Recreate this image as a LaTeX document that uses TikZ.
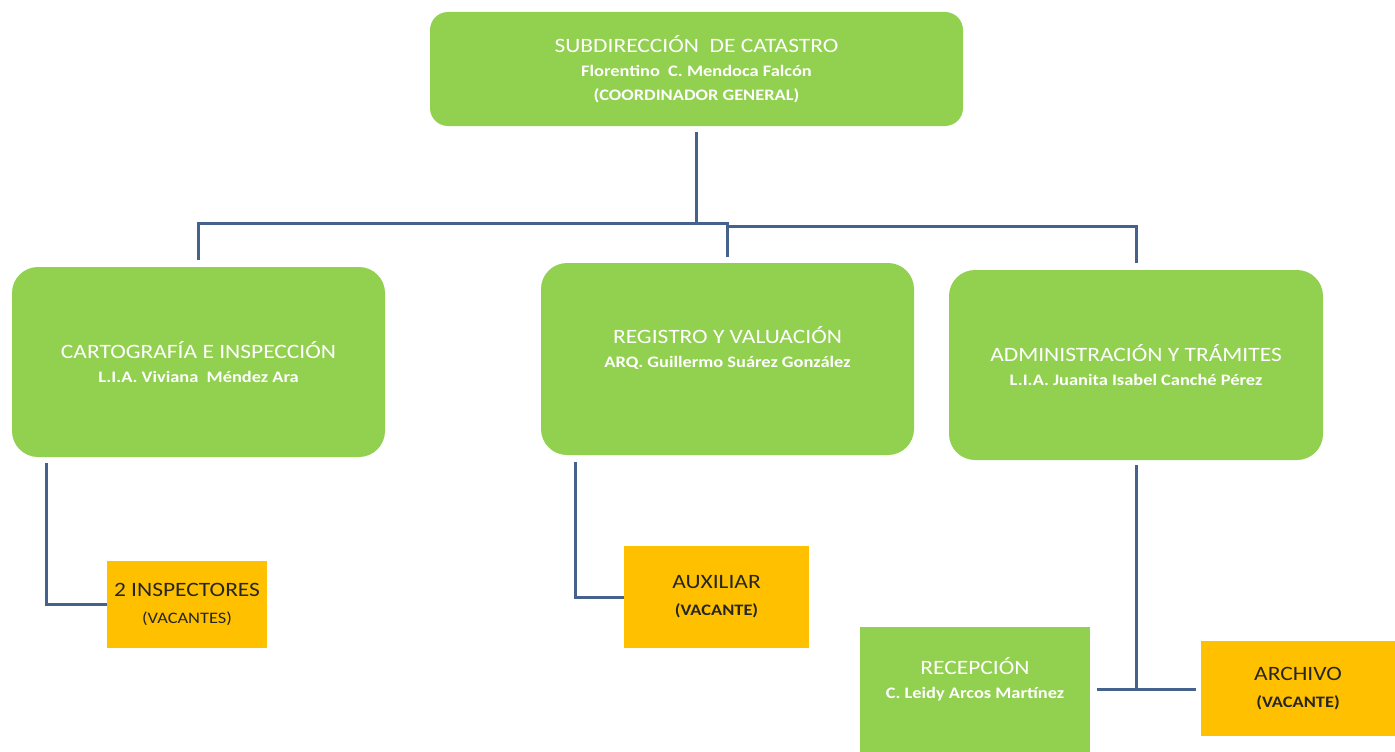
\documentclass[tikz,border=0pt]{standalone}
\usepackage{fontspec}
\setmainfont{Carlito}[FakeStretch=1.15]
\usepackage{tikz}
\definecolor{mygreen}{RGB}{146,208,80}
\definecolor{myorange}{RGB}{255,192,0}
\definecolor{myblue}{RGB}{68,98,140}
\newcommand{\head}[1]{{\mdseries\fontsize{20.4}{24}\selectfont #1}}

\begin{document}
\begin{tikzpicture}[x=1pt, y=-1pt,
    unit/.style={fill=mygreen, rounded corners=26pt, text=white, align=center, inner sep=0pt,
      font=\fontsize{16}{24}\selectfont\bfseries},
    staff/.style={fill=myorange, text=black!85, align=center, inner sep=0pt,
      font=\fontsize{16}{27}\selectfont},
    link/.style={draw=myblue, line width=3pt}]
  \useasboundingbox (0,0) rectangle (1395,752);
  \node[unit, minimum width=533pt, minimum height=114pt, rounded corners=18pt] (sub) at (696.5,69)
    {\head{SUBDIRECCIÓN\ \ DE CATASTRO}\\Florentino\ \ C. Mendoca Falcón\\(COORDINADOR GENERAL)};
  \node[unit, minimum width=373pt, minimum height=190pt] (carto) at (198.5,362)
    {\head{CARTOGRAFÍA E INSPECCIÓN}\\L.I.A. Viviana\ \ Méndez Ara};
  \node[unit, minimum width=373pt, minimum height=192pt] (reg) at (727.5,359)
    {\head{REGISTRO Y VALUACIÓN}\\ARQ. Guillermo Suárez González\\\mbox{}};
  \node[unit, minimum width=374pt, minimum height=190pt] (adm) at (1136,365)
    {\head{ADMINISTRACIÓN Y TRÁMITES}\\L.I.A. Juanita Isabel Canché Pérez};
  \node[staff, minimum width=160pt, minimum height=87pt] (insp) at (187,604.5)
    {\head{2 INSPECTORES}\\(VACANTES)};
  \node[staff, minimum width=185pt, minimum height=102pt] (aux) at (716.5,597)
    {\head{AUXILIAR}\\\textbf{(VACANTE)}};
  \node[unit, sharp corners, minimum width=230pt, minimum height=125pt] (recep) at (975,689.5)
    {\head{RECEPCIÓN}\\C. Leidy Arcos Martínez\\\mbox{}};
  \node[staff, minimum width=194pt, minimum height=95pt] (arch) at (1298,688.5)
    {\head{ARCHIVO}\\\textbf{(VACANTE)}};

  \coordinate (bus) at (696.5,223);
  \coordinate (jog) at (727.5,226);
  \coordinate (tee) at (adm.south |- recep.east);
  \draw[link] ([yshift=-6pt]sub.south) -- (bus) -| ([yshift=7pt]carto.north);
  \draw[link] (bus) -| ([yshift=6pt]reg.north);
  \draw[link] (jog) -| ([yshift=7pt]adm.north);
  \draw[link] ([xshift=35pt,yshift=-6pt]carto.south west) |- (insp.west);
  \draw[link] ([xshift=35pt,yshift=-7pt]reg.south west) |- (aux.west);
  \draw[link] ([yshift=-5pt]adm.south) -- (tee);
  \draw[link, shorten >=7pt] (tee) -- (recep.east);
  \draw[link, shorten >=5pt] (tee) -- (tee -| arch.west);
\end{tikzpicture}
\end{document}
